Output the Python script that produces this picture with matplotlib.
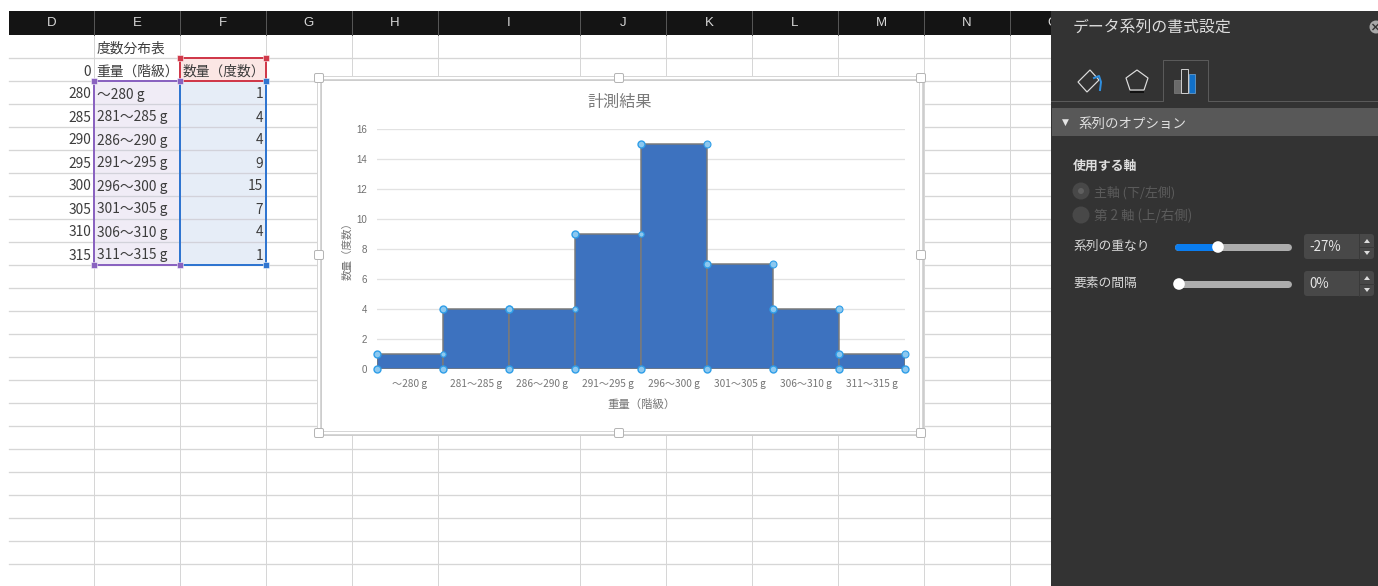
import matplotlib
matplotlib.use('Agg')

import matplotlib.pyplot as plt
from matplotlib.patches import Rectangle, Polygon, Circle, FancyBboxPatch

plt.rcParams['font.family'] = ['Noto Sans CJK JP', 'DejaVu Sans']

# frequency table
bins = [280, 285, 290, 295, 300, 305, 310, 315]
classes = ['～280 g', '281～285 g', '286～290 g', '291～295 g',
           '296～300 g', '301～305 g', '306～310 g', '311～315 g']
counts = [1, 4, 4, 9, 15, 7, 4, 1]
y_ticks = [0, 2, 4, 6, 8, 10, 12, 14, 16]

col_names = ['D', 'E', 'F', 'G', 'H', 'I', 'J', 'K', 'L', 'M', 'N']
col_edges = [9, 94, 180, 266, 352, 438, 580, 666, 752, 838, 924, 1010]

W, H = 1378, 586
PX = 0.72  # one pixel in points at dpi 100


def sheet(bg):
    # column header, grid and the selected ranges
    bg.add_patch(Rectangle((9, 11), 1042, 24, fc='#141414', ec='none', zorder=2))
    for x in col_edges[1:]:
        bg.plot([x, x], [35, H], color='#d6d6d6', lw=PX, zorder=1)
        bg.plot([x, x], [11, 35], color='#555555', lw=PX, zorder=3)
    for y in range(58, H, 23):
        bg.plot([9, 1051], [y, y], color='#d6d6d6', lw=PX * 1.3, zorder=1)
    for i, name in enumerate(col_names):
        bg.text((col_edges[i] + col_edges[i + 1]) / 2, 23, name, color='#d8d8d8',
                fontsize=9.5, ha='center', va='center', family=['Liberation Sans'], zorder=4)
    bg.text(1053, 23, 'O', color='#d8d8d8', fontsize=9.5, ha='center', va='center',
            family=['Liberation Sans'], zorder=4)

    top, bottom = 81, 81 + 23 * len(classes)
    bg.add_patch(Rectangle((94, top), 86, bottom - top, fc='#f0ecf6', ec='none', zorder=1.2))
    bg.add_patch(Rectangle((180, top), 86, bottom - top, fc='#e6edf7', ec='none', zorder=1.2))
    bg.add_patch(Rectangle((180, 58), 86, 23, fc='#fbe6e4', ec='none', zorder=1.2))
    for y in range(top + 23, bottom, 23):
        bg.plot([94, 266], [y, y], color='#d2d2da', lw=PX * 1.3, zorder=1.3)

    bg.add_patch(Rectangle((94, top), 86, bottom - top, fc='none', ec='#8a63c0', lw=PX * 2, zorder=3))
    bg.add_patch(Rectangle((180, top), 86, bottom - top, fc='none', ec='#2f75d0', lw=PX * 2, zorder=3))
    bg.add_patch(Rectangle((180, 58), 86, 23, fc='none', ec='#d0394a', lw=PX * 2, zorder=3))
    for x, y, c in [(180, 58, '#d0394a'), (266, 58, '#d0394a'), (94, top, '#8a63c0'),
                    (180, top, '#8a63c0'), (266, top, '#2f75d0'), (94, bottom, '#8a63c0'),
                    (180, bottom, '#8a63c0'), (266, bottom, '#2f75d0')]:
        bg.add_patch(Rectangle((x - 3, y - 3), 6, 6, fc=c, ec='white', lw=PX * 0.5, zorder=4))

    txt = dict(fontsize=9.9, color='#3c3c3c', va='center', zorder=5)
    bg.text(97, 48.5, '度数分布表', ha='left', **txt)
    bg.text(91, 71.5, '0', ha='right', **txt)
    bg.text(96, 71.5, '重量（階級）', ha='left', **txt)
    bg.text(183, 71.5, '数量（度数）', ha='left', **txt)
    for i, (b, c, n) in enumerate(zip(bins, classes, counts)):
        y = 94.5 + 23 * i
        bg.text(91, y, str(b), ha='right', **txt)
        bg.text(97, y, c, ha='left', **txt)
        bg.text(263, y, str(n), ha='right', **txt)


def chart_frame(bg):
    # double selection border with the resize handles
    bg.add_patch(Rectangle((319, 78), 602, 355, fc='white', ec='#cdcdcd', lw=PX * 5, zorder=6))
    bg.add_patch(Rectangle((319, 78), 602, 355, fc='none', ec='white', lw=PX * 2.4, zorder=6.1))
    for x in (319, 619, 921):
        for y in (78, 255, 433):
            if x == 619 and y == 255:
                continue
            bg.add_patch(FancyBboxPatch((x - 4.5, y - 4.5), 9, 9, boxstyle='round,pad=0,rounding_size=1.5',
                                        fc='white', ec='#b5b5b5', lw=PX, zorder=6.2))
    bg.text(620, 102, '計測結果', fontsize=11.6, color='#7a7a7a', ha='center', va='center', zorder=7)


def panel(bg):
    # format pane on the right
    bg.add_patch(Rectangle((1051, 11), 327, H, fc='#333333', ec='none', zorder=8))
    bg.text(1073, 28.5, 'データ系列の書式設定', fontsize=11.4, color='#dcdcdc', va='center', zorder=9)
    bg.add_patch(Circle((1376, 27), 6.5, fc='#a8a8a8', ec='none', zorder=9))
    bg.plot([1373, 1378], [24.5, 29.5], color='#333333', lw=PX * 1.4, zorder=9.1)
    bg.plot([1373, 1378], [29.5, 24.5], color='#333333', lw=PX * 1.4, zorder=9.1)

    # tab strip
    bg.plot([1051, 1163, 1163, 1208, 1208, 1378], [101, 101, 60, 60, 101, 101],
            color='#5a5a5a', lw=PX, zorder=9)
    bg.add_patch(Polygon([(1078, 82), (1090, 70), (1099, 80), (1087, 92)], closed=True,
                         fc='none', ec='#dddddd', lw=PX * 1.2, zorder=9))
    bg.plot([1094, 1099, 1101, 1100], [78, 76, 82, 90], color='#2f8fe0', lw=PX * 2, zorder=9)
    bg.add_patch(Polygon([(1137, 70), (1148, 78), (1144, 90), (1130, 90), (1126, 78)], closed=True,
                         fc='none', ec='#dddddd', lw=PX * 1.2, zorder=9))
    bg.plot([1131, 1143], [92, 92], color='#111111', lw=PX * 2, zorder=9)
    bg.add_patch(Rectangle((1174, 80), 7, 13, fc='#6a6a6a', ec='#888888', lw=PX * 0.6, zorder=9))
    bg.add_patch(Rectangle((1181, 69), 7, 24, fc='#333333', ec='#cccccc', lw=PX, zorder=9))
    bg.add_patch(Rectangle((1189, 74), 6, 19, fc='#1170c8', ec='#7fb6e6', lw=PX * 0.6, zorder=9))

    bg.add_patch(Rectangle((1052, 108), 326, 28, fc='#585858', ec='none', zorder=9))
    bg.text(1062, 122, '▼', fontsize=6.5, color='#e6e6e6', va='center', zorder=10,
            family=['DejaVu Sans'])
    bg.text(1078, 123.5, '系列のオプション', fontsize=9.7, color='#e0e0e0', va='center', zorder=10)

    bg.text(1073, 165.5, '使用する軸', fontsize=9.3, color='#dedede', va='center', weight='bold', zorder=10)
    bg.add_patch(Circle((1081, 191), 8.5, fc='#484848', ec='none', zorder=9))
    bg.add_patch(Circle((1081, 191), 3, fc='#5f5f5f', ec='none', zorder=9.1))
    bg.text(1094, 193, '主軸 (下/左側)', fontsize=9.3, color='#5c5c5c', va='center', zorder=10)
    bg.add_patch(Circle((1081, 215), 8.5, fc='#484848', ec='none', zorder=9))
    bg.text(1094, 216, '第 2 軸 (上/右側)', fontsize=9.7, color='#5c5c5c', va='center', zorder=10)

    for y, label, knob, val in [(245, '系列の重なり', 1218, '-27%'), (282, '要素の間隔', 1179, '0%')]:
        bg.text(1073, y + 1, label, fontsize=9.2, color='#d8d8d8', va='center', zorder=10)
        bg.plot([1178, 1288], [y + 2, y + 2], color='#adadad', lw=PX * 7, solid_capstyle='round', zorder=9)
        if knob > 1179:
            bg.plot([1178, knob], [y + 2, y + 2], color='#0a7df0', lw=PX * 7, solid_capstyle='round', zorder=9.1)
        bg.add_patch(Circle((knob, y + 2), 5.8, fc='white', ec='none', zorder=9.2))
        bg.add_patch(FancyBboxPatch((1304, y - 11), 70, 25, boxstyle='round,pad=0,rounding_size=3',
                                    fc='#484848', ec='none', zorder=9))
        bg.plot([1359, 1359], [y - 11, y + 14], color='#3a3a3a', lw=PX, zorder=9.1)
        bg.plot([1359, 1374], [y + 2, y + 2], color='#3a3a3a', lw=PX, zorder=9.1)
        bg.add_patch(Polygon([(1364, y - 2), (1370, y - 2), (1367, y - 6)], closed=True, fc='#dddddd', ec='none', zorder=9.2))
        bg.add_patch(Polygon([(1364, y + 6), (1370, y + 6), (1367, y + 10)], closed=True, fc='#dddddd', ec='none', zorder=9.2))
        bg.text(1309, y + 2, val, fontsize=9.6, color='#e6e6e6', va='center', zorder=10)


def histogram(fig):
    ax = fig.add_axes([377 / W, (H - 369) / H, 528 / W, 240 / H], zorder=20)
    ax.patch.set_alpha(0)
    x = list(range(len(counts)))
    ax.set_xlim(-0.5, len(counts) - 0.5)
    ax.set_ylim(0, 16)
    ax.grid(axis='y', color='#e2e2e2', lw=PX * 1.3)
    ax.set_axisbelow(True)
    ax.bar(x, counts, width=1.0, color='#3d72bf', edgecolor='#7a7a7a', linewidth=PX * 1.5, zorder=3)

    for s in ax.spines.values():
        s.set_visible(False)
    ax.set_xticks(x)
    ax.set_xticklabels(classes, fontsize=7.3, color='#757575')
    ax.set_yticks(y_ticks)
    ax.set_yticklabels([str(t) for t in y_ticks], fontsize=7, color='#6e6e6e',
                       family=['Liberation Sans'])
    ax.tick_params(length=0, pad=7.5, axis='x')
    ax.tick_params(length=0, pad=7, axis='y')
    ax.set_xlabel('重量（階級）', fontsize=8.2, color='#757575', labelpad=7)
    ax.set_ylabel('数量（度数）', fontsize=7.6, color='#757575', labelpad=3)

    # series selection dots on each bar's corners
    style = dict(ls='none', marker='o', mfc='#8cc8f0', mec='#2f9ee8', clip_on=False, zorder=5)
    for i, n in enumerate(counts):
        ax.plot(i - 0.5, n, ms=5, mew=1, **style)
        nxt = counts[i + 1] if i + 1 < len(counts) else 0
        ax.plot(i + 0.5, n, ms=3.8 if nxt > n else 5, mew=0.8, **style)
        ax.plot(i - 0.5, 0, ms=5, mew=1, **style)
    ax.plot(len(counts) - 0.5, 0, ms=5, mew=1, **style)
    return ax


fig = plt.figure(figsize=(W / 100, H / 100), dpi=100, facecolor='white')
bg = fig.add_axes([0, 0, 1, 1], zorder=1)
bg.set_xlim(0, W)
bg.set_ylim(H, 0)
bg.axis('off')

sheet(bg)
chart_frame(bg)
panel(bg)
histogram(fig)

fig.savefig('out.png', dpi=100)
